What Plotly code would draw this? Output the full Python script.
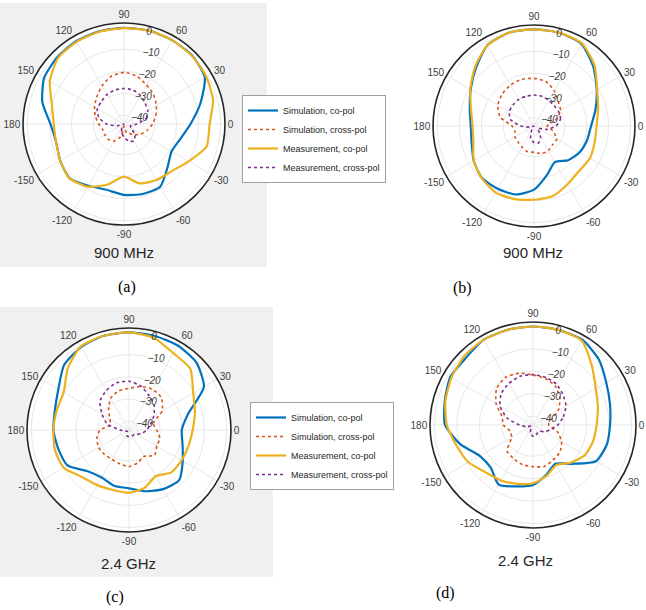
import plotly.graph_objects as go

W, H = 646, 610

ANG = [0, 15, 30, 45, 60, 75, 90, 105, 120, 135, 150, 165,
       180, 195, 210, 225, 240, 255, 270, 285, 300, 315, 330, 345]
ANG_TICKS = [0, 30, 60, 90, 120, 150, 180, 210, 240, 270, 300, 330]
ANG_LABELS = ["0", "30", "60", "90", "120", "150", "180", "-150", "-120", "-90", "-60", "-30"]
R_TICKS = [-40, -30, -20, -10, 0]
SERIES = ["Simulation, co-pol", "Simulation, cross-pol", "Measurement, co-pol", "Measurement, cross-pol"]
TITLES = ["900 MHz", "900 MHz", "2.4 GHz", "2.4 GHz"]
LETTERS = ["(a)", "(b)", "(c)", "(d)"]

# (a) 900 MHz
a_sim_co = [-13.7, -8, -1.5, 0, 0, 0, -0.2, -0.3, -0.5, -1, -2, -5.5,
            -10.5, -12, -10.5, -9, -11.5, -13, -11.7, -11, -11, -16, -19, -17.5]
a_sim_x = [-31, -29, -27, -25, -23.5, -21.5, -20.5, -21.5, -24, -26.5, -28.5, -30.5,
           -32.5, -34, -34, -34, -35, -38, -43, -40, -39, -37, -35, -33]
a_meas_co = [-5, -2, -0.8, -0.2, 0, 0, -0.3, -0.5, -0.8, -1.5, -5, -10,
             -12, -12, -10.5, -9, -11, -15.5, -20, -16, -14.5, -13.5, -10, -5]
a_meas_x = [-38, -33.5, -31.5, -30.5, -29, -28, -27.8, -28, -28.5, -29.5, -30, -32,
            -36, -41, -44, -44, -42, -40, -38, -36, -35, -37, -40, -41]

# (b) 900 MHz
b_sim_co = [-18, -15, -11, -5.8, -0.8, 0, 0, 0, -1.5, -6.6, -10.7, -13.7,
            -15.2, -14.6, -12.3, -10.5, -11, -11.7, -15, -21, -25, -22, -20, -19]
b_sim_x = [-38, -34, -30, -28.4, -25.5, -23, -22.3, -22, -22.5, -23.5, -25, -28,
           -34, -35, -34, -33.7, -33, -32, -32, -31, -31, -32, -32, -35]
b_meas_co = [-15.5, -13.8, -10.8, -5, -0.5, 0, 0, 0, -1.5, -6, -10.5, -14.3,
             -16, -15.4, -12.3, -10.4, -9, -9.5, -10.4, -11, -13.4, -15, -14.6, -15.4]
b_meas_x = [-34, -31.5, -31, -31, -30.5, -30, -29.9, -30, -30, -30.5, -31, -33,
            -38, -42, -44, -44, -42, -38, -36.5, -36, -38, -41, -42, -38]

# (c) 2.4 GHz
c_sim_co = [-20.2, -16.5, -5, -1, 0, 0, 0, 0, -0.8, -2.6, -7.2, -9.4,
            -9.9, -11, -12, -17.7, -19.3, -18, -17.7, -15.4, -13.2, -12, -16, -19]
c_sim_x = [-31.5, -32.7, -26.7, -23.4, -22.8, -23.7, -25.2, -25.8, -27.5, -31, -34, -35.3,
           -30.9, -29, -28.2, -28.4, -28.7, -28.2, -27.5, -28.7, -30.3, -27.8, -29.5, -29.6]
c_meas_co = [-15.3, -13.2, -10.6, -4.9, -4, -0.9, 0, 0, -0.5, -4.9, -10, -10.2,
             -9.9, -9.4, -10, -14, -15.3, -16, -15.7, -17, -19.9, -17, -16.6, -16.2]
c_meas_x = [-36, -34, -31, -28, -26, -23.5, -22, -22, -23.5, -25.5, -30, -34,
            -40, -42, -43, -43, -42, -41, -41, -41, -41, -41, -40, -38]

# (d) 2.4 GHz
d_sim_co = [-9.6, -8.4, -6.2, -2.5, 0, 0, 0, 0, 0, -1.6, -1.3, -3.2,
            -4.7, -10.5, -16.5, -17.2, -13.3, -15.6, -17.2, -21, -24, -19.5, -11.6, -9.9]
d_sim_x = [-37, -36, -31, -27, -24, -22.5, -21.7, -20, -19.4, -21, -25, -29.7,
           -30.8, -33.4, -33, -27.6, -26.7, -25.7, -25.4, -24.8, -26, -27, -29.3, -32.8]
d_meas_co = [-15.6, -14, -11.6, -6.8, -0.5, 0, 0, 0, 0, -0.6, -1.9, -3.5,
             -5.5, -8.6, -10.7, -14.1, -15.4, -16.8, -18, -20.5, -23.3, -20.2, -17.2, -16.2]
d_meas_x = [-33, -30, -27, -25, -23, -22, -21.5, -21.5, -22.5, -24, -27, -32,
            -38, -41, -43, -43, -42, -40, -39, -39, -40, -40, -38, -36]

PANELS = [
    [a_sim_co, a_sim_x, a_meas_co, a_meas_x],
    [b_sim_co, b_sim_x, b_meas_co, b_meas_x],
    [c_sim_co, c_sim_x, c_meas_co, c_meas_x],
    [d_sim_co, d_sim_x, d_meas_co, d_meas_x],
]

COLORS = ["#0072BD", "#D95319", "#EDB120", "#7E2F8E"]
DASHES = ["solid", "dot", "solid", "dot"]
WIDTHS = [2.2, 1.6, 2.2, 1.6]

# circle centre (px) and radius (px) for each panel
GEOM = [(124, 124, 101), (534, 126, 101), (129, 430, 102), (533, 425, 103)]
TITLE_POS = [(124, 253), (533, 253), (128, 563), (525, 560)]
LETTER_POS = [(127, 287), (463, 288), (115, 597), (445, 593)]
LEGEND_POS = {0: (242, 95), 2: (250, 402)}

fig = go.Figure()
for p, data in enumerate(PANELS):
    sub = "polar" if p == 0 else f"polar{p + 1}"
    for s, vals in enumerate(data):
        if p == 0:
            kw = dict(showlegend=True, legend="legend")
        elif p == 2:
            kw = dict(showlegend=True, legend="legend2")
        else:
            kw = dict(showlegend=False)
        fig.add_trace(go.Scatterpolar(
            r=vals + [vals[0]], theta=ANG + [360], mode="lines",
            name=SERIES[s], subplot=sub,
            line=dict(color=COLORS[s], width=WIDTHS[s], dash=DASHES[s], shape="spline", smoothing=0.6),
            **kw))

layout = dict(width=W, height=H, margin=dict(l=0, r=0, t=0, b=0),
              paper_bgcolor="white", font=dict(family="Liberation Sans", color="#333333"))

for p, (cx, cy, rad) in enumerate(GEOM):
    key = "polar" if p == 0 else f"polar{p + 1}"
    layout[key] = dict(
        domain=dict(x=[(cx - rad) / W, (cx + rad) / W], y=[1 - (cy + rad) / H, 1 - (cy - rad) / H]),
        bgcolor="white",
        angularaxis=dict(rotation=0, direction="counterclockwise", tickvals=ANG_TICKS, ticktext=ANG_LABELS,
                         showline=True, linecolor="#262626", linewidth=1.6, gridcolor="#e8e8e8",
                         ticks="", tickfont=dict(size=10, color="#404040")),
        radialaxis=dict(range=[-44, 2], tickvals=R_TICKS, angle=80, tickangle=80, showline=False, ticks="",
                        gridcolor="#e8e8e8", tickfont=dict(size=10, color="#404040", style="italic")),
    )

layout["shapes"] = [
    dict(type="rect", xref="paper", yref="paper", x0=0, x1=267 / W, y0=1 - 267 / H, y1=1 - 3 / H,
         fillcolor="#f0f0f0", line=dict(width=0), layer="below"),
    dict(type="rect", xref="paper", yref="paper", x0=0, x1=273 / W, y0=1 - 577 / H, y1=1 - 307 / H,
         fillcolor="#f0f0f0", line=dict(width=0), layer="below"),
]

ann = []
for p in range(4):
    tx, ty = TITLE_POS[p]
    ann.append(dict(x=tx / W, y=1 - ty / H, xref="paper", yref="paper", text=TITLES[p], showarrow=False,
                    xanchor="center", yanchor="middle",
                    font=dict(size=15, color="#262626", family="Liberation Sans")))
    lx, ly = LETTER_POS[p]
    ann.append(dict(x=lx / W, y=1 - ly / H, xref="paper", yref="paper", text=LETTERS[p], showarrow=False,
                    xanchor="center", yanchor="middle",
                    font=dict(size=16, color="black", family="Liberation Serif")))
layout["annotations"] = ann

for p, key in [(0, "legend"), (2, "legend2")]:
    lx, ly = LEGEND_POS[p]
    layout[key] = dict(x=lx / W, y=1 - ly / H, xanchor="left", yanchor="top", bgcolor="white",
                       bordercolor="#a0a0a0", borderwidth=1, font=dict(size=9, color="#262626"),
                       tracegroupgap=0, itemwidth=30)

fig.update_layout(**layout)
fig.write_html("out.html", config={"displayModeBar": False},
               post_script="document.body.style.margin='0px';")
